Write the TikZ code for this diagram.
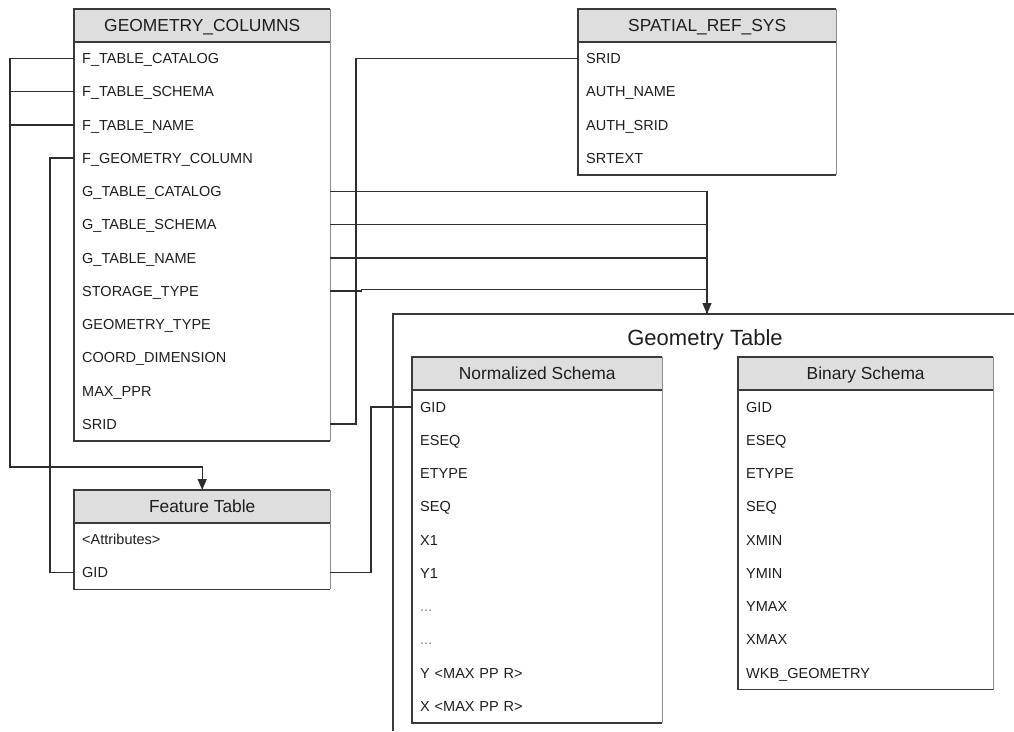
\documentclass[tikz,border=0pt]{standalone}
\usepackage{fontspec}
\setmainfont{Liberation Sans}
\usetikzlibrary{arrows.meta}

\definecolor{hdrfill}{HTML}{DEDEDE}
\definecolor{txt}{HTML}{1E1E1E}
\definecolor{edgedark}{HTML}{3A3A3A}
\definecolor{edgelight}{HTML}{8C8C8C}
\definecolor{linec}{HTML}{2E2E2E}

\newcommand{\rowfont}{\fontsize{14.5}{17}\selectfont}
\newcommand{\hdrfont}{\fontsize{17.4}{20}\selectfont}
\newcommand{\titlefont}{\fontsize{22}{26}\selectfont}
\newcommand{\dotrow}{\textcolor{black!50}{...}}

% draw the frame of a table: header box top-left, last row bottom-right
\newcommand{\tableframe}[2]{%
  \draw[frame] (#1.south east) -- (#2.south east);
  \draw[frame,draw=edgedark,line width=1.5pt] (#1.north east) -- (#1.north west) -- (#2.south west) -- (#2.south east);
  \draw[frame,draw=edgedark] (#1.south west) -- (#1.south east);
  \draw[frame] (#1.north east) -- (#1.south east);
}

\begin{document}
\begin{tikzpicture}[
  x=1pt, y=-1pt,
  hdr/.style={fill=hdrfill, inner sep=0pt, minimum height=32.5pt,
              text height=12.5pt, text depth=0pt,
              minimum width=#1, anchor=north west, font=\hdrfont, text=txt},
  rowc/.style={inner xsep=8pt, inner ysep=0pt, minimum height=33.25pt,
               text height=10.5pt, text depth=0pt,
               text width=#1-16pt, align=left, anchor=north west,
               font=\rowfont, text=txt},
  frame/.style={draw=edgelight, line width=1.2pt},
  conn/.style={draw=linec, line width=1.35pt},
  arr/.style={conn, -{Triangle[length=11pt,width=9pt]}}
]
\fill[white] (0,0) rectangle (1014,731);
\useasboundingbox (0,0) rectangle (1014,731);

% GEOMETRY_COLUMNS
\node[hdr=256pt] (gc-h) at (74,9) {GEOMETRY\_COLUMNS};
\foreach \t [count=\i] in {F\_TABLE\_CATALOG, F\_TABLE\_SCHEMA, F\_TABLE\_NAME,
    F\_GEOMETRY\_COLUMN, G\_TABLE\_CATALOG, G\_TABLE\_SCHEMA, G\_TABLE\_NAME,
    STORAGE\_TYPE, GEOMETRY\_TYPE, COORD\_DIMENSION, MAX\_PPR, SRID}
  \node[rowc=256pt] (gc-\i) at (74,{41.5+33.25*(\i-1)}) {\t};
\tableframe{gc-h}{gc-12}

% SPATIAL_REF_SYS
\node[hdr=258pt] (srs-h) at (578,9) {SPATIAL\_REF\_SYS};
\foreach \t [count=\i] in {SRID, AUTH\_NAME, AUTH\_SRID, SRTEXT}
  \node[rowc=258pt] (srs-\i) at (578,{41.5+33.25*(\i-1)}) {\t};
\tableframe{srs-h}{srs-4}

% Feature Table
\node[hdr=256pt] (ft-h) at (74,490) {Feature Table};
\foreach \t [count=\i] in {<Attributes>, GID}
  \node[rowc=256pt] (ft-\i) at (74,{522.5+33.25*(\i-1)}) {\t};
\tableframe{ft-h}{ft-2}

% Geometry Table container
\draw[conn, draw=edgedark] (1014,314) -- (393,314) -- (393,731);
\coordinate (gt-in) at (707,314);
\node[font=\titlefont, text=txt] (gt-title) at (705,340) {Geometry Table};

% Normalized Schema
\node[hdr=250pt] (ns-h) at (412,357) {Normalized Schema};
\foreach \t [count=\i] in {GID, ESEQ, ETYPE, SEQ, X1, Y1, \dotrow, \dotrow,
    Y <MAX PP R>, X <MAX PP R>}
  \node[rowc=250pt] (ns-\i) at (412,{390+33.25*(\i-1)}) {\t};
\tableframe{ns-h}{ns-10}

% Binary Schema
\node[hdr=255pt] (bs-h) at (738,357) {Binary Schema};
\foreach \t [count=\i] in {GID, ESEQ, ETYPE, SEQ, XMIN, YMIN, YMAX, XMAX,
    WKB\_GEOMETRY}
  \node[rowc=255pt] (bs-\i) at (738,{390+33.25*(\i-1)}) {\t};
\tableframe{bs-h}{bs-9}

% bend points of the connectors
\coordinate (fbend) at (10,467);
\coordinate (gbend) at (50,0);
\coordinate (sbend) at (356,0);
\coordinate (nbend) at (371,0);

% F_TABLE_* -> Feature Table
\draw[arr] (gc-1.west) -| (fbend) -| (ft-h.north);
\draw[conn] (gc-2.west) -- (gc-2.west -| fbend);
\draw[conn] (gc-3.west) -- (gc-3.west -| fbend);

% F_GEOMETRY_COLUMN -> Feature Table GID
\draw[conn] (gc-4.west) -| (gbend |- ft-2.west) -- (ft-2.west);

% SPATIAL_REF_SYS SRID -> GEOMETRY_COLUMNS SRID
\draw[conn] (srs-1.west) -| (sbend |- gc-12.east) -- (gc-12.east);

% G_TABLE_* and STORAGE_TYPE -> Geometry Table
\draw[arr] (gc-5.east) -| (gt-in);
\draw[conn] (gc-6.east) -- (gc-6.east -| gt-in);
\draw[conn] (gc-7.east) -- (gc-7.east -| gt-in);
\draw[conn] (gc-8.east) -- ++(31,0) -- ++(0,-1.5) -| (gt-in);

% Feature Table GID -> Normalized Schema GID
\draw[conn] (ft-2.east) -| (nbend |- ns-1.west) -- (ns-1.west);
\end{tikzpicture}
\end{document}
